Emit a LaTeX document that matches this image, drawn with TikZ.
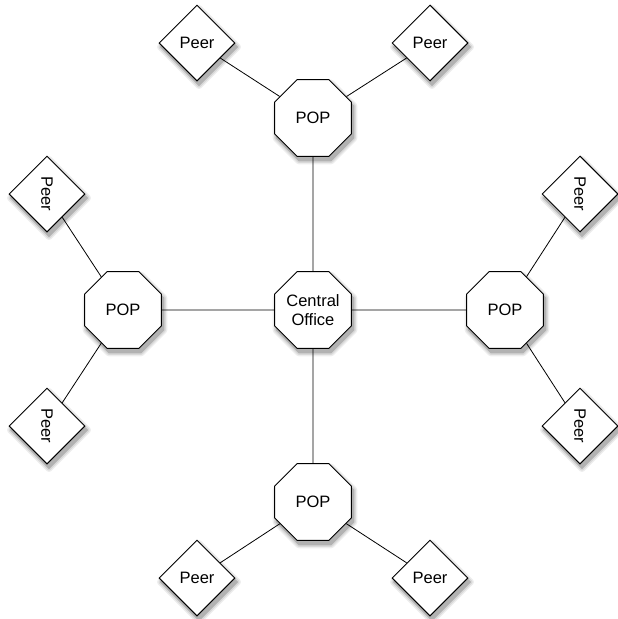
\documentclass[tikz,border=0pt]{standalone}
\usepackage{fontspec}
\setmainfont{Liberation Sans}
\usetikzlibrary{shapes.geometric,backgrounds}

\begin{document}
\begin{tikzpicture}[x=1pt,y=1pt,
  hub/.style={regular polygon,regular polygon sides=8,minimum size=83pt,inner sep=0pt,
    draw,line width=1pt,fill=white,align=center,font=\fontsize{16.5}{18.5}\selectfont},
  peer/.style={diamond,minimum width=76pt,minimum height=76pt,inner sep=0pt,
    draw,line width=1pt,fill=white,font=\fontsize{16.5}{18.5}\selectfont},
  shade/.style={line join=round,fill=black!#1,draw=black!#1},
  link/.style={line width=0.8pt}]
 \useasboundingbox (0,-619) rectangle (618,0);
 % central office and points of presence
 \node[hub] (co) at (313,-310) {Central\\Office};
 \node[hub] (popN) at (313,-118) {POP};
 \node[hub] (popS) at (313,-502) {POP};
 \node[hub] (popW) at (123,-310) {POP};
 \node[hub] (popE) at (505,-310) {POP};
 % peers
 \node[peer] (peerNW) at (197,-43) {Peer};
 \node[peer] (peerNE) at (430,-43) {Peer};
 \node[peer] (peerSW) at (197,-578) {Peer};
 \node[peer] (peerSE) at (430,-578) {Peer};
 \node[peer] (peerWN) at (47,-194) {\rotatebox{-90}{Peer}};
 \node[peer] (peerWS) at (47,-426) {\rotatebox{-90}{Peer}};
 \node[peer] (peerEN) at (580,-194) {\rotatebox{-90}{Peer}};
 \node[peer] (peerES) at (580,-426) {\rotatebox{-90}{Peer}};
 % soft shadows behind the shapes
 \begin{pgfonlayer}{background}
 \foreach \n in {co,popN,popS,popW,popE}
   \foreach \g/\w in {7/7pt,15/4pt,30/1pt}
     \draw[shade=\g,line width=\w] ([shift={(2pt,-4pt)}]\n.corner 1)
       \foreach \k in {2,...,8} {-- ([shift={(2pt,-4pt)}]\n.corner \k)} -- cycle;
 \foreach \n in {peerNW,peerNE,peerSW,peerSE,peerWN,peerWS,peerEN,peerES}
   \foreach \g/\w in {7/7pt,15/4pt,30/1pt}
     \draw[shade=\g,line width=\w] ([shift={(2pt,-4pt)}]\n.north)
       -- ([shift={(2pt,-4pt)}]\n.west) -- ([shift={(2pt,-4pt)}]\n.south)
       -- ([shift={(2pt,-4pt)}]\n.east) -- cycle;
 \end{pgfonlayer}
 % links
 \foreach \p in {popN,popS,popW,popE}
   \draw[link] (co) -- (\p);
 \draw[link] (popN) -- (peerNW);
 \draw[link] (popN) -- (peerNE);
 \draw[link] (popS) -- (peerSW);
 \draw[link] (popS) -- (peerSE);
 \draw[link] (popW) -- (peerWN);
 \draw[link] (popW) -- (peerWS);
 \draw[link] (popE) -- (peerEN);
 \draw[link] (popE) -- (peerES);
\end{tikzpicture}
\end{document}
